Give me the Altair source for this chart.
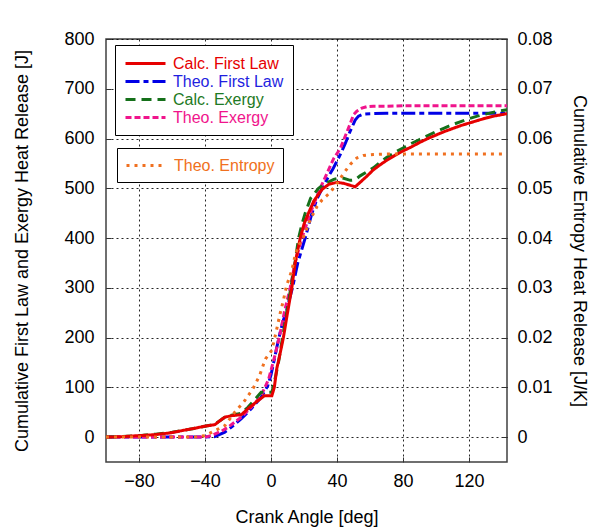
import altair as alt
import pandas as pd

FONT = "Liberation Sans"

series_names = ["Calc. First Law", "Theo. First Law", "Calc. Exergy", "Theo. Exergy"]
series_colors = ["#e60000", "#0000e6", "#15701a", "#f0148c"]
series_dash = [[1, 0], [14, 4, 5, 4], [10, 6], [6, 3]]
entropy_name = "Theo. Entropy"
entropy_color = "#f07020"

# Calc. First Law [J]
calc_fl_angle = [-100, -90, -80, -70, -60, -54, -46, -40, -34, -31, -28, -24, -18, -14, -8, -4, 0.5, 2, 3.5, 5,
                 7.5, 10, 12.6, 14.6, 17.7, 20, 22.7, 26, 31, 35, 40, 44, 48, 51, 54, 58, 62, 66, 70, 75, 80,
                 85, 90, 95, 100, 105, 110, 115, 120, 125, 130, 135, 143]
calc_fl_val = [0, 1, 3, 5, 9, 13, 18, 22, 25, 33, 40, 43, 45, 57, 73, 83, 83, 100, 138, 160,
               200, 250, 300, 350, 400, 428, 450, 475, 498, 508, 512, 510, 506, 503, 512, 524, 537, 547, 556, 566, 575,
               583, 592, 600, 607, 614, 620, 626, 631, 636, 641, 645, 650]

# Theo. First Law [J]
theo_fl_angle = [-100, -60, -40, -34, -28, -24, -18, -12, -6, -2, 0, 1.6, 3.5, 5.5, 7.5, 9.5, 11, 13, 16.2,
                 20.7, 24.8, 28, 31, 35, 37.4, 40, 42, 45, 48, 51, 53, 56, 60, 70, 80, 100, 120, 143]
theo_fl_val = [0, 0, 0, 1, 10, 20, 37, 57, 80, 103, 125, 150, 180, 210, 235, 255, 275, 300, 350,
               400, 450, 480, 500, 525, 538, 555, 568, 590, 615, 637, 645, 649, 650, 651, 651, 651, 651, 651]

# Calc. Exergy [J]
calc_ex_angle = [-100, -90, -80, -70, -60, -54, -46, -40, -34, -31, -28, -24, -18, -14, -10, -6, 0.5, 2, 4.5, 7,
                 9.5, 12, 14.5, 16.7, 18.5, 20.7, 24, 28.8, 32, 35, 38, 41, 44, 48, 51, 54, 58, 62, 66, 70, 75,
                 80, 85, 90, 95, 100, 105, 110, 115, 120, 125, 130, 135, 143]
calc_ex_val = [0, 1, 3, 6, 10, 13, 18, 22, 26, 33, 40, 44, 48, 60, 75, 90, 90, 110, 150, 200,
               250, 300, 350, 400, 425, 450, 480, 500, 508, 513, 518, 520, 520, 516, 517, 525, 533, 541, 552, 562, 572,
               581, 590, 598, 606, 614, 621, 628, 634, 640, 645, 649, 653, 658]

# Theo. Exergy [J]
theo_ex_angle = [-100, -60, -40, -36, -30, -26, -18, -12, -6, -1.4, 2.6, 5.6, 8, 11.6, 14.6, 18.7, 23.8, 29.8,
                 35, 38, 42, 45, 48, 50, 52, 55, 58, 62, 70, 80, 100, 120, 143]
theo_ex_val = [0, 0, 0, 3, 12, 20, 40, 60, 83, 117, 167, 210, 250, 300, 350, 400, 450, 500,
               538, 560, 580, 605, 630, 648, 655, 661, 664, 665, 665, 666, 666, 666, 666]

# Theo. Entropy [J/K]
theo_en_angle = [-100, -60, -46, -40, -34, -28, -22, -16, -11, -7, -3.4, 0, 1.6, 3, 5.5, 7.5, 9.5, 12.6, 14.6,
                 16.7, 19.7, 23.8, 27.8, 31, 36, 40, 44, 48, 52, 56, 62, 70, 80, 100, 120, 143]
theo_en_val = [0, 0, 0, 0.0003, 0.0013, 0.0023, 0.0050, 0.0073, 0.0097, 0.0123, 0.0157, 0.0172, 0.0190, 0.0210,
               0.0248, 0.0275, 0.0305, 0.0335, 0.0365, 0.0385, 0.0402, 0.0437, 0.0463, 0.0477, 0.0492, 0.0510,
               0.0530, 0.0548, 0.0561, 0.0566, 0.0568, 0.0569, 0.0569, 0.0569, 0.0569, 0.0569]

x_ticks = [-80, -40, 0, 40, 80, 120]
y_ticks = [0, 100, 200, 300, 400, 500, 600, 700, 800]
s_ticks = [0, 0.01, 0.02, 0.03, 0.04, 0.05, 0.06, 0.07, 0.08]

rows = []
draw_order = [(series_names[1], theo_fl_angle, theo_fl_val),
              (series_names[3], theo_ex_angle, theo_ex_val),
              (series_names[2], calc_ex_angle, calc_ex_val),
              (series_names[0], calc_fl_angle, calc_fl_val)]
for name, angs, vals in draw_order:
    for a, v in zip(angs, vals):
        rows.append({"series": name, "angle": a, "value": v})
df = pd.DataFrame(rows)
df_s = pd.DataFrame({"series": entropy_name, "angle": theo_en_angle, "value": theo_en_val})

x_scale = alt.Scale(domain=[-100, 143], nice=False, zero=False)
x_enc = alt.X("angle:Q", scale=x_scale,
              axis=alt.Axis(values=x_ticks, title="Crank Angle [deg]", grid=True, offset=-5, tickSize=5,
                            labelPadding=10, titlePadding=18,
                            labelExpr="replace(datum.label, '-', '\u2212')"))

label_fill_expr = ("datum.value === 'Calc. First Law' ? '#e60000' : datum.value === 'Theo. First Law' ? '#1f1fe0' : "
                   "datum.value === 'Calc. Exergy' ? '#1e7a24' : '#f0148c'")

# wide horizontal stroke symbol: 40 px long with a 16 px entry height
SYM = "M-2.5,0H2.5"

legend1 = alt.Legend(title=None, orient="none", legendX=9, legendY=6, symbolType=SYM, symbolSize=256,
                     symbolStrokeWidth=3, symbolOffset=12, labelFont=FONT, labelFontSize=16, padding=9,
                     rowPadding=0, labelOffset=18, strokeColor="black", fillColor="white",
                     labelColor={"expr": label_fill_expr})

main = alt.Chart(df).mark_line(strokeWidth=3, clip=True).encode(
    x=x_enc,
    y=alt.Y("value:Q", scale=alt.Scale(domain=[-50, 800], nice=False, zero=False),
            axis=alt.Axis(orient="left", values=y_ticks, title="Cumulative First Law and Exergy Heat Release [J]",
                          grid=True, offset=-5, tickSize=5, labelPadding=12, titlePadding=32)),
    color=alt.Color("series:N", scale=alt.Scale(domain=series_names, range=series_colors), legend=legend1),
    strokeDash=alt.StrokeDash("series:N", scale=alt.Scale(domain=series_names, range=series_dash), legend=legend1),
)

legend2 = alt.Legend(title=None, orient="none", legendX=11, legendY=109, symbolType=SYM, symbolSize=256,
                     symbolStrokeWidth=3, symbolDash=[3, 5], symbolOffset=12, labelFont=FONT, labelFontSize=16,
                     padding=8, labelOffset=18, labelColor=entropy_color, strokeColor="black", fillColor="white")

ent = alt.Chart(df_s).mark_line(strokeWidth=3, strokeDash=[3, 5], clip=True).encode(
    x=x_enc,
    y=alt.Y("value:Q", scale=alt.Scale(domain=[-0.005, 0.08], nice=False, zero=False),
            axis=alt.Axis(orient="right", values=s_ticks, title="Cumulative Entropy Heat Release [J/K]",
                          grid=False, offset=-5, tickSize=5, labelPadding=10, titlePadding=17,
                          labelExpr="datum.value == 0 ? '0' : format(datum.value, '.2f')")),
    stroke=alt.Stroke("series:N", scale=alt.Scale(domain=[entropy_name], range=[entropy_color]), legend=legend2),
)

chart = alt.layer(main, ent).resolve_scale(y="independent").properties(
    width=401, height=423,
    background="white",
    autosize=alt.AutoSizeParams(type="none"),
    padding={"left": 106, "top": 39, "right": 85, "bottom": 67},
).configure_axis(
    labelFont=FONT, titleFont=FONT, labelFontSize=18, titleFontSize=18, labelColor="black",
    titleColor="black", titleFontWeight="normal", tickColor="#333333", tickWidth=1, domain=False,
    gridColor="black", gridDash=[2, 3], gridOpacity=0.85, gridWidth=1,
).configure_view(stroke="#404040", strokeWidth=1.5)

chart.save("out.html", embed_options={"renderer": "svg", "actions": False})
